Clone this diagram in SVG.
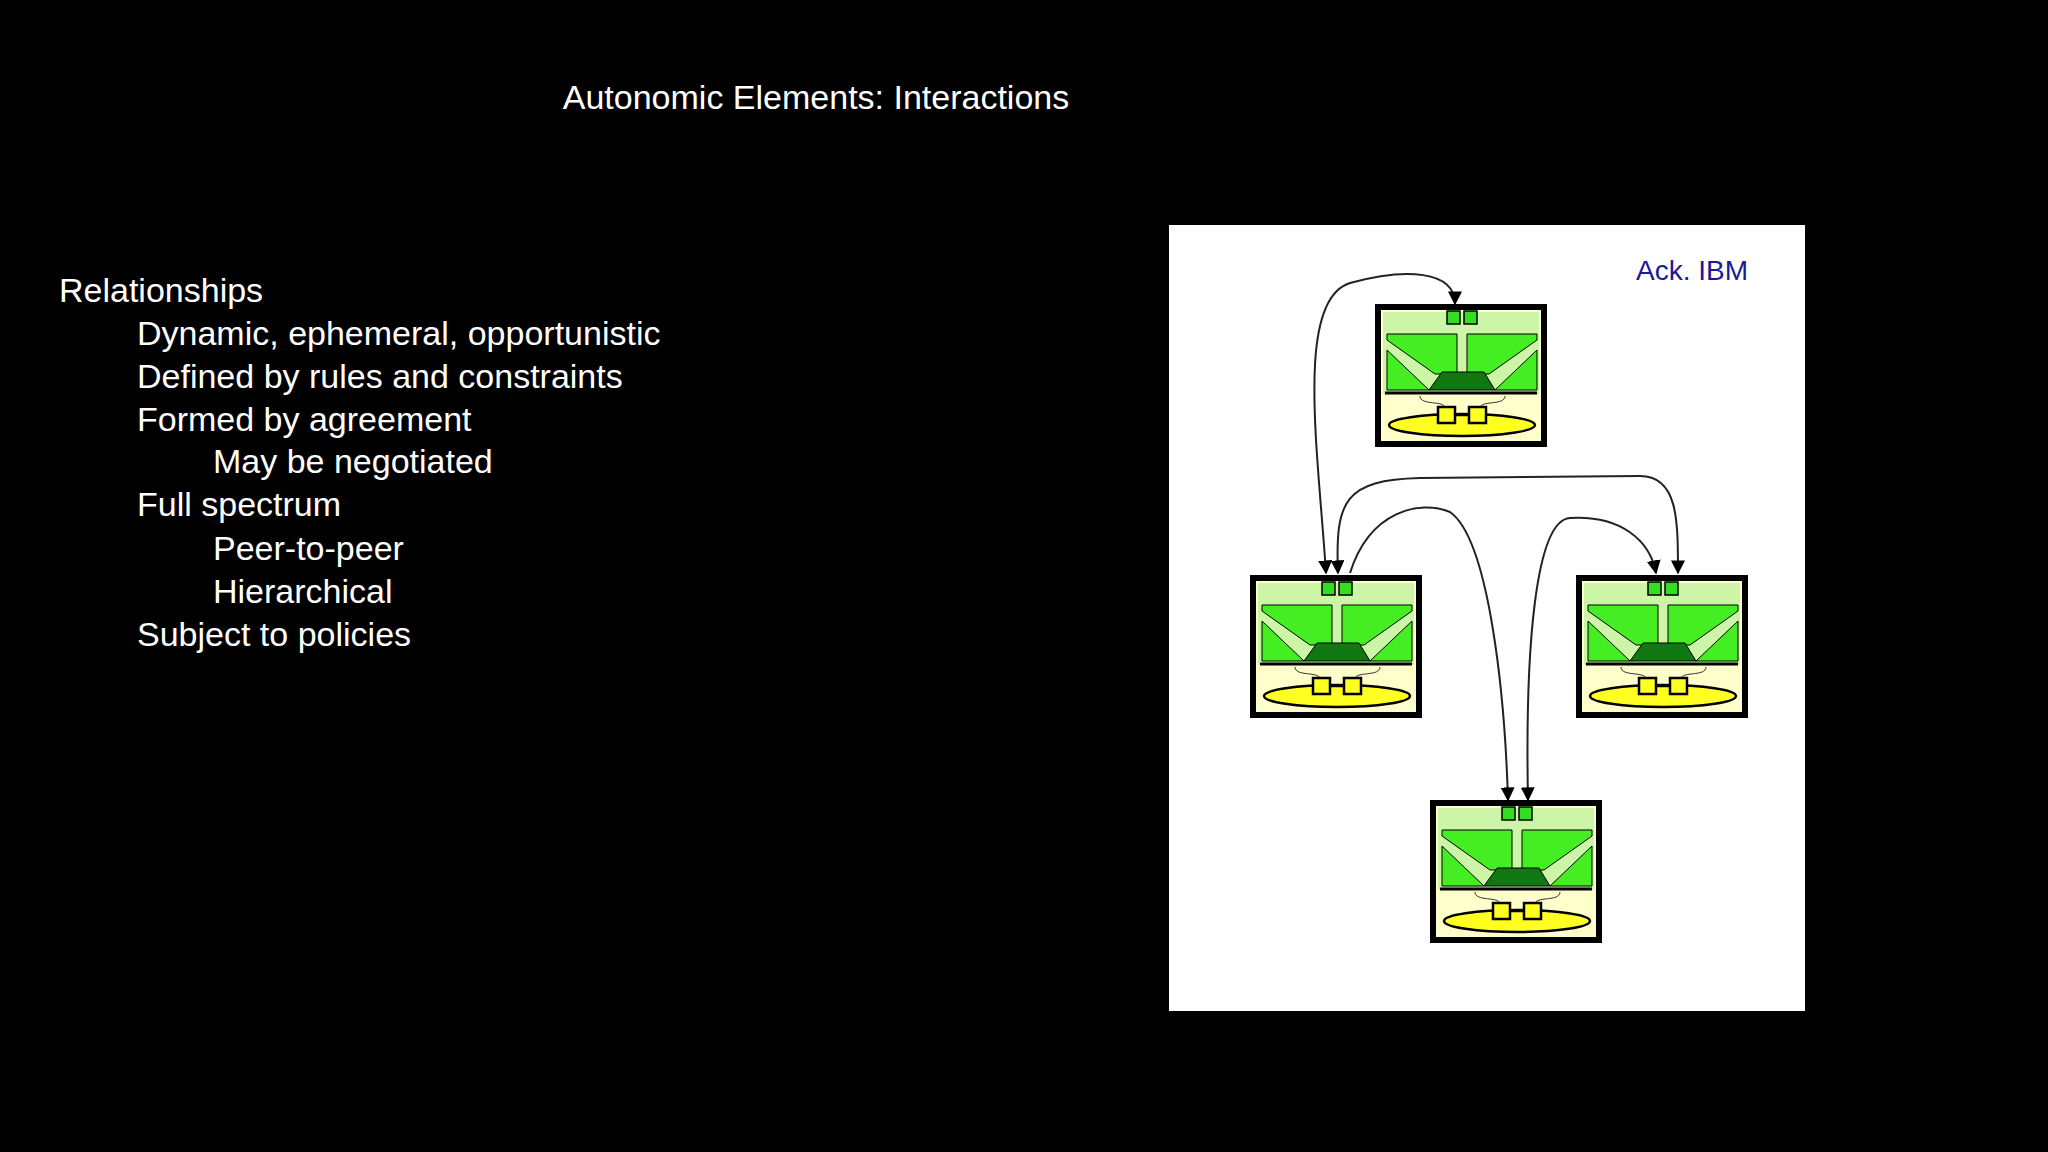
<svg xmlns="http://www.w3.org/2000/svg" width="2048" height="1152" viewBox="0 0 2048 1152">
<style>
.t{font-family:"Liberation Sans",Arial,sans-serif;fill:#fff;font-size:34px}
.c{fill:none;stroke:#222;stroke-width:2}
</style>
<defs>
<marker id="ah" viewBox="0 0 10 10" refX="9" refY="5" markerWidth="7" markerHeight="7" orient="auto-start-reverse"><path d="M0,0L10,5L0,10z" fill="#000"/></marker>
<g id="ae">
<rect x="3" y="3" width="166" height="137" fill="#ffffcc" stroke="#000" stroke-width="6"/>
<rect x="8" y="8" width="156" height="82" fill="#ccf5a8"/>
<rect x="72" y="7" width="13" height="13" fill="#33dd22" stroke="#000" stroke-width="1.5"/>
<rect x="89" y="7" width="13" height="13" fill="#33dd22" stroke="#000" stroke-width="1.5"/>
<polygon points="12,30 82,30 82,70 60,70 12,36" fill="#44ee22" stroke="#000" stroke-width="1"/>
<polygon points="12,46 54,86 12,86" fill="#44ee22" stroke="#000" stroke-width="1"/>
<polygon points="162,30 92,30 92,70 114,70 162,36" fill="#44ee22" stroke="#000" stroke-width="1"/>
<polygon points="162,46 120,86 162,86" fill="#44ee22" stroke="#000" stroke-width="1"/>
<polygon points="67,68 109,68 120,86 54,86" fill="#117711" stroke="#000" stroke-width="1"/>
<line x1="10" y1="89" x2="162" y2="89" stroke="#000" stroke-width="3"/>
<path d="M45,92 C45,102 70,96 70,104 M130,92 C130,102 105,96 105,104" fill="none" stroke="#333" stroke-width="1"/>
<ellipse cx="87" cy="121" rx="73" ry="11" fill="#ffff22" stroke="#000" stroke-width="2.5"/>
<line x1="80" y1="111" x2="94" y2="111" stroke="#000" stroke-width="2.5"/>
<rect x="63" y="103" width="17" height="16" fill="#ffff22" stroke="#000" stroke-width="2.5"/>
<rect x="94" y="103" width="17" height="16" fill="#ffff22" stroke="#000" stroke-width="2.5"/>
</g>
</defs>
<rect width="2048" height="1152" fill="#000"/>
<text class="t" x="816" y="109" text-anchor="middle" font-size="34">Autonomic Elements: Interactions</text>
<g id="bullets" class="t">
<text class="t" x="59" y="302">Relationships</text>
<text class="t" x="137" y="345">Dynamic, ephemeral, opportunistic</text>
<text class="t" x="137" y="388">Defined by rules and constraints</text>
<text class="t" x="137" y="431">Formed by agreement</text>
<text class="t" x="213" y="473">May be negotiated</text>
<text class="t" x="137" y="516">Full spectrum</text>
<text class="t" x="213" y="560">Peer-to-peer</text>
<text class="t" x="213" y="603">Hierarchical</text>
<text class="t" x="137" y="646">Subject to policies</text>
</g>
<rect x="1169" y="225" width="636" height="786" fill="#fff"/>
<text x="1636" y="280" font-family="Liberation Sans,Arial,sans-serif" font-size="28" fill="#1a1a99">Ack. IBM</text>
<g id="n1"><use href="#ae" x="1375" y="304"/></g>
<g id="n2"><use href="#ae" x="1250" y="575"/></g>
<g id="n3"><use href="#ae" x="1576" y="575"/></g>
<g id="n4"><use href="#ae" x="1430" y="800"/></g>
<g id="connectors">
<path class="c" d="M1326,573 C1318,450 1295,300 1350,283 C1405,268 1455,270 1455,304" marker-start="url(#ah)" marker-end="url(#ah)"/>
<path class="c" d="M1338,573 C1335,500 1345,480 1420,478 L1640,476 C1678,476 1678,520 1678,573" marker-start="url(#ah)" marker-end="url(#ah)"/>
<path class="c" d="M1350,573 C1370,510 1420,500 1450,512 C1490,540 1505,700 1508,800" marker-end="url(#ah)"/>
<path class="c" d="M1528,800 C1525,650 1535,520 1570,518 C1620,515 1650,540 1656,573" marker-start="url(#ah)" marker-end="url(#ah)"/>
</g>
</svg>
